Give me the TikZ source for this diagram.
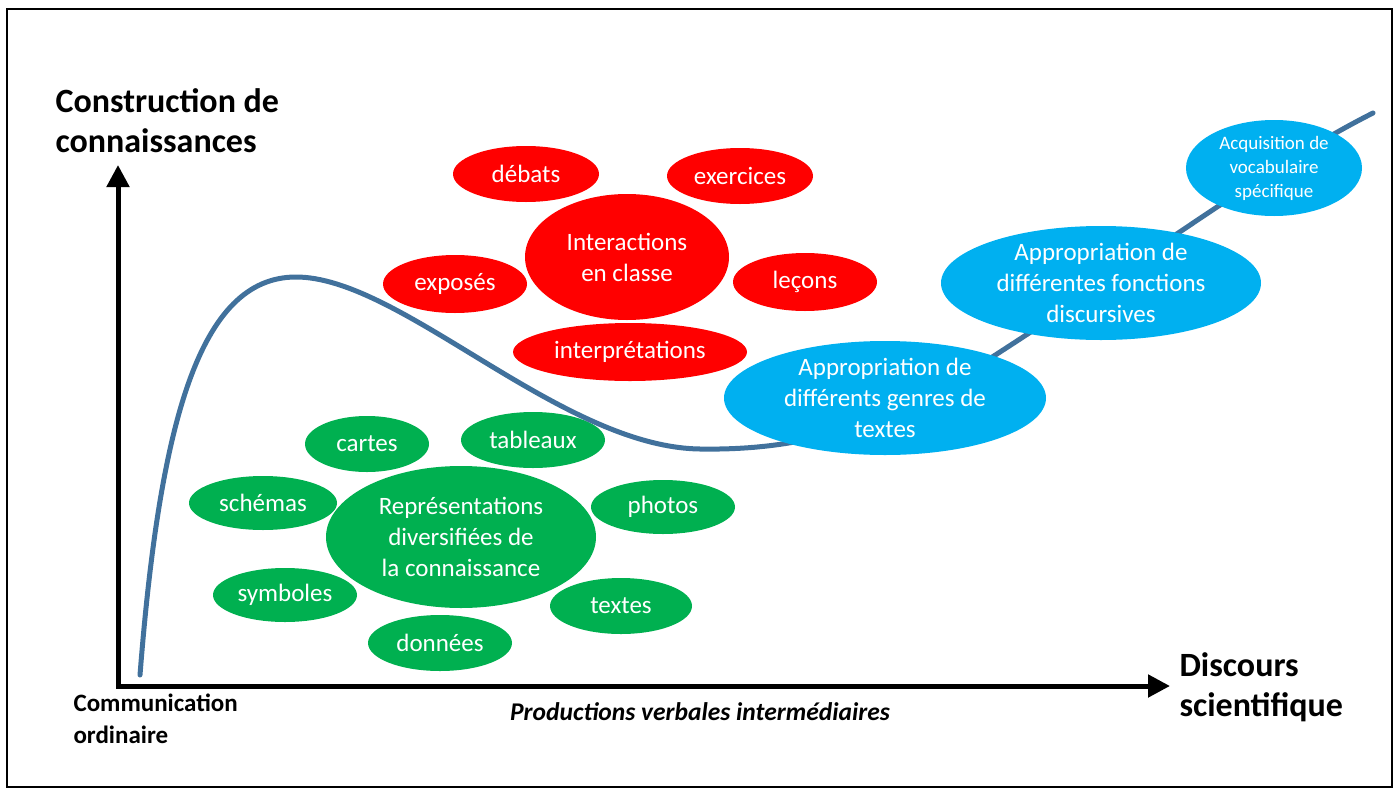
\documentclass[tikz,border=0pt]{standalone}
\usepackage{fontspec}
\setmainfont{Carlito}
\usetikzlibrary{shapes.geometric,arrows.meta}

\definecolor{rouge}{HTML}{FF0000}
\definecolor{vert}{HTML}{00B050}
\definecolor{bleu}{HTML}{00B0F0}
\definecolor{courbe}{HTML}{41719C}

\begin{document}
\begin{tikzpicture}[x=1pt,y=-1pt,
	bulle/.style={ellipse,inner sep=0pt,text=white,align=center,font=\fontsize{25}{31}\selectfont},
	taille/.style 2 args={minimum width=#1pt,minimum height=#2pt},
	interaction/.style={bulle,fill=rouge},
	represent/.style={bulle,fill=vert},
	appropriation/.style={bulle,fill=bleu,inner sep=-12pt},
	axe/.style={line width=5pt,line join=miter,{Triangle[length=22pt,width=22pt]}-{Triangle[length=22pt,width=22pt]}},
	titre/.style={font=\bfseries\fontsize{34}{40}\selectfont,align=left,anchor=west},
	sous/.style={font=\bfseries\fontsize{25}{32}\selectfont,align=left,anchor=west}]

	\useasboundingbox (0,0) rectangle (1398,790);
	\draw[line width=2pt] (7,9) rectangle (1392,787);

	\coordinate (origine) at (118,686);
	\coordinate (haut) at (118,165);
	\coordinate (droite) at (1170,686);
	\draw[axe] (haut) -- (origine) -- (droite);

	\node[titre] (construction) at (52,121) {Construction de\\connaissances};
	\node[titre] (discours) at (1176,687) {Discours\\scientifique};
	\node[sous] (communication) at (70,719) {Communication\\ordinaire};
	\node[font=\bfseries\itshape\fontsize{25.5}{28}\selectfont] (productions) at (700,712) {Productions verbales interm\'ediaires};

	\node[represent,taille={124}{56}] (cartes) at (367,444) {cartes};
	\node[represent,taille={144}{56}] (tableaux) at (533,440) {tableaux};
	\node[represent,taille={148}{54}] (schemas) at (263,503) {schémas};
	\node[represent,taille={270}{142}] (representations) at (461,537) {Représentations\\diversifiées de\\la connaissance};
	\node[represent,taille={144}{54}] (photos) at (663,507) {photos};
	\node[represent,taille={144}{54}] (symboles) at (285,595) {symboles};
	\node[represent,taille={142}{56}] (textes) at (621,606) {textes};
	\node[represent,taille={144}{56}] (donnees) at (440,643) {données};

	\node[interaction,taille={146}{56}] (debats) at (526,174) {débats};
	\node[interaction,taille={146}{56}] (exercices) at (740,176) {exercices};
	\node[interaction,taille={204}{126}] (interactions) at (627,257) {Interactions\\en classe};
	\node[interaction,taille={144}{58}] (exposes) at (455,284) {exposés};
	\node[interaction,taille={144}{58}] (lecons) at (805,282) {leçons};
	\node[interaction,taille={234}{58}] (interpretations) at (630,352) {interprétations};

	\coordinate (depart) at (140,675);
	\coordinate (sommet) at (295,277);
	\coordinate (creux) at (700,449);
	\coordinate (montee) at (1000,352);
	\coordinate (fin) at (1373,113);
	\draw[courbe,line width=5pt,line cap=round]
		(depart) .. controls (160,420) and (200,278) .. (sommet)
		.. controls (400,276) and (560,447) .. (creux)
		.. controls (820,451) and (900,417) .. (montee)
		.. controls (1150,255) and (1270,165) .. (fin);

	\node[appropriation,taille={322}{114}] (genres) at (885,398) {Appropriation de\\différents genres de\\textes};
	\node[appropriation,taille={320}{114}] (fonctions) at (1101,283) {Appropriation de\\différentes fonctions\\discursives};
	\node[appropriation,taille={176}{96},font=\fontsize{19}{24}\selectfont] (vocabulaire) at (1274,168) {Acquisition de\\vocabulaire\\spécifique};

\end{tikzpicture}
\end{document}
